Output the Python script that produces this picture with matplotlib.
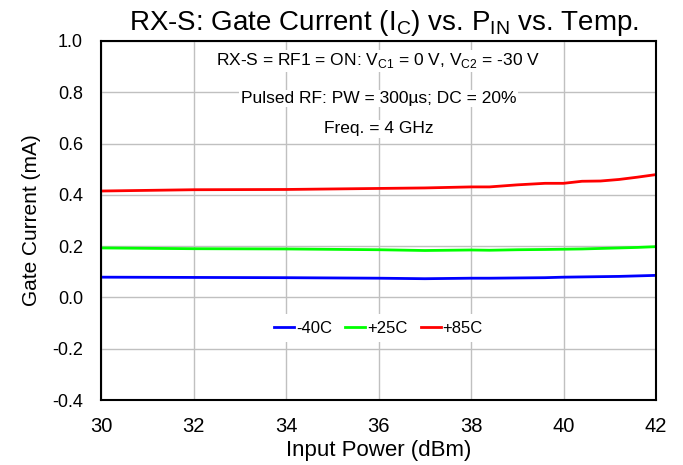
import numpy as np
import matplotlib.pyplot as plt

plt.rcParams['font.family'] = ['Liberation Sans', 'DejaVu Sans']
plt.rcParams['mathtext.fontset'] = 'custom'
plt.rcParams['mathtext.rm'] = 'Liberation Sans'

# input power (dBm)
pin = [30, 32, 34, 36, 37, 38, 38.4, 39, 39.6, 40, 40.4, 40.8, 41.2, 41.6, 42]
# gate current (mA) per temperature
cur_m40 = [0.079, 0.078, 0.077, 0.075, 0.073, 0.075, 0.075, 0.076, 0.077, 0.079, 0.080, 0.081, 0.082, 0.084, 0.086]
cur_p25 = [0.193, 0.190, 0.189, 0.186, 0.183, 0.185, 0.184, 0.186, 0.187, 0.188, 0.189, 0.191, 0.193, 0.195, 0.198]
cur_p85 = [0.415, 0.420, 0.421, 0.425, 0.427, 0.431, 0.431, 0.439, 0.445, 0.445, 0.453, 0.454, 0.460, 0.469, 0.479]

fig = plt.figure(figsize=(6.83, 4.65), dpi=100)
ax = fig.add_axes([101 / 683, 65 / 465, 555 / 683, 359 / 465])

ax.plot(pin, cur_m40, color='#0000ff', lw=2, label='-40C')
ax.plot(pin, cur_p25, color='#00ff00', lw=2, label='+25C')
ax.plot(pin, cur_p85, color='#ff0000', lw=2, label='+85C')

ax.set_xlim(30, 42)
ax.set_ylim(-0.4, 1.0)
ax.set_xticks(np.arange(30, 43, 2))
ax.set_yticks(np.arange(-0.4, 1.01, 0.2))
ax.yaxis.set_major_formatter(plt.FormatStrFormatter('%.1f'))
ax.grid(True, color='#c0c0c0', lw=1)
ax.set_axisbelow(True)
ax.tick_params(axis='x', length=0, labelsize=14.5, pad=12)
ax.tick_params(axis='y', length=0, labelsize=13, pad=13)
for s in ax.spines.values():
    s.set_color('black')
    s.set_linewidth(1.5)

ax.set_xlabel('Input Power (dBm)', fontsize=16, labelpad=3)
ax.set_ylabel('Gate Current (mA)', fontsize=15, labelpad=8)
ax.set_title(r'RX-S: Gate Current (I$_\mathregular{C}$) vs. P$_\mathregular{IN}$ vs. Temp.',
             fontsize=20, pad=8, x=0.51)

box = dict(facecolor='white', edgecolor='none', pad=1)
ax.text(0.5, 0.945, r'RX-S = RF1 = ON: V$_\mathregular{C1}$ = 0 V, V$_\mathregular{C2}$ = -30 V',
        transform=ax.transAxes, ha='center', va='center', fontsize=12.5, bbox=box)
ax.text(0.5, 0.84, 'Pulsed RF: PW = 300µs; DC = 20%',
        transform=ax.transAxes, ha='center', va='center', fontsize=12.5, bbox=box)
ax.text(0.5, 0.755, 'Freq. = 4 GHz',
        transform=ax.transAxes, ha='center', va='center', fontsize=12.5, bbox=box)

leg = ax.legend(loc='center', bbox_to_anchor=(0.5, 0.2), ncol=3, frameon=True,
                fontsize=12, handlelength=1.2, handletextpad=0.1, columnspacing=0.8,
                borderaxespad=0, fancybox=False)
leg.get_frame().set_edgecolor('none')
leg.get_frame().set_facecolor('white')
leg.get_frame().set_alpha(1)

fig.savefig('out.png', dpi=100)
